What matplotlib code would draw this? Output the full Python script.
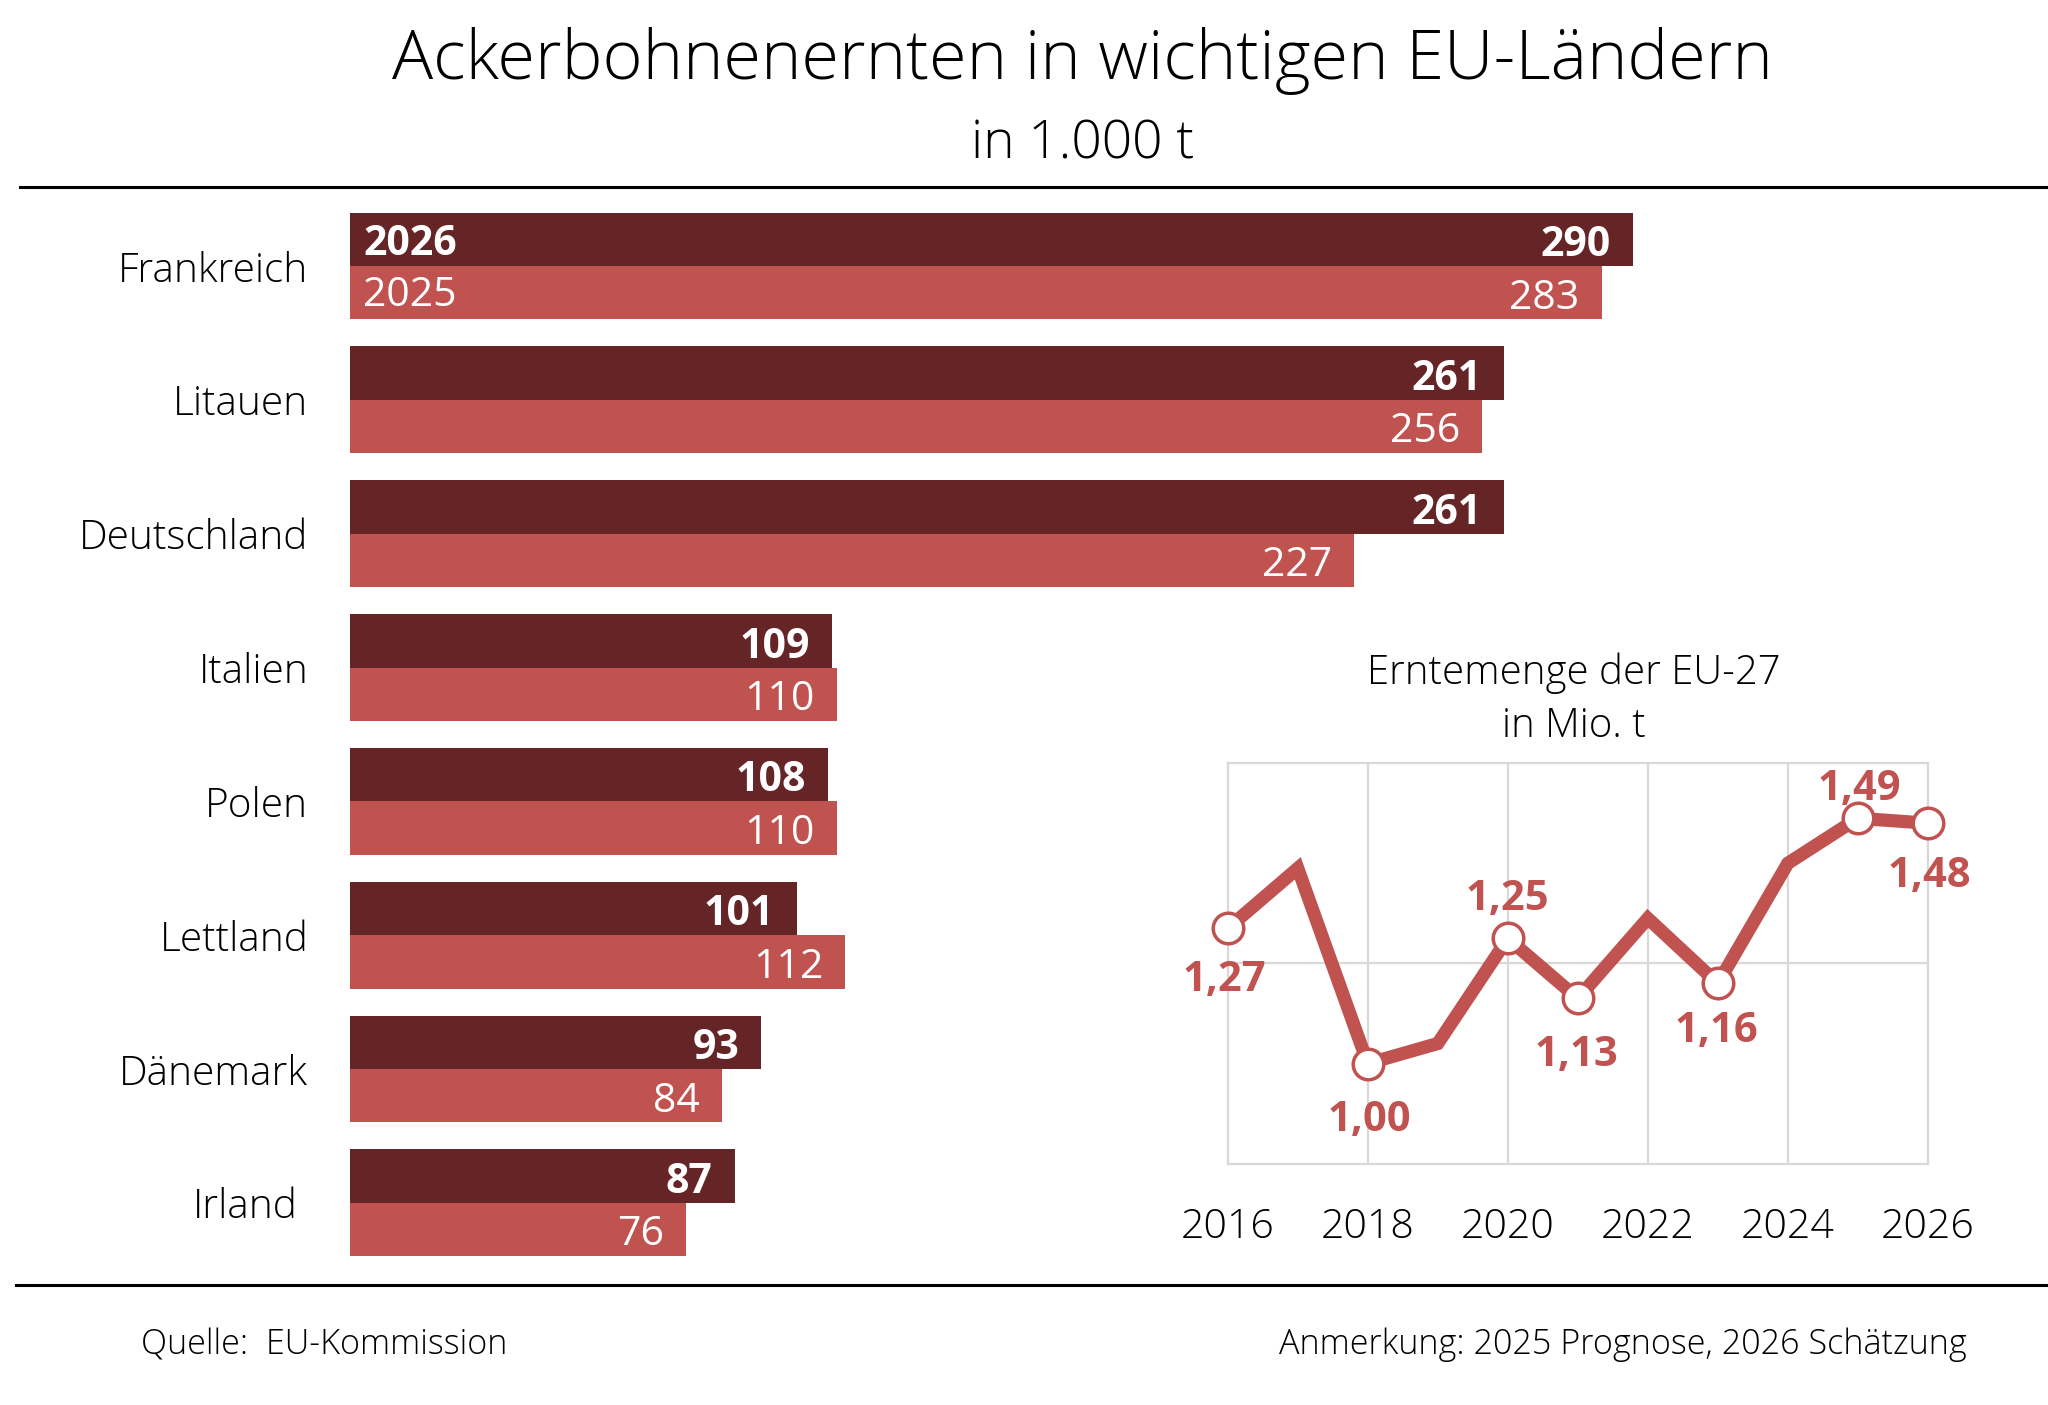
import numpy as np
import matplotlib
matplotlib.use("Agg")
import matplotlib.pyplot as plt
import matplotlib.transforms as mtransforms
from matplotlib.lines import Line2D

plt.rcParams['font.family'] = ['Open Sans', 'DejaVu Sans']

# Data
countries = ["Frankreich", "Litauen", "Deutschland", "Italien", "Polen",
             "Lettland", "Dänemark", "Irland"]
harvest_2026 = [290, 261, 261, 109, 108, 101, 93, 87]
harvest_2025 = [283, 256, 227, 110, 110, 112, 84, 76]

years = [2016, 2017, 2018, 2019, 2020, 2021, 2022, 2023, 2024, 2025, 2026]
eu_total = [1.27, 1.39, 1.00, 1.04, 1.25, 1.13, 1.29, 1.16, 1.40, 1.49, 1.48]
labelled_years = [2016, 2018, 2020, 2021, 2023, 2025, 2026]
year_ticks = [2016, 2018, 2020, 2022, 2024, 2026]

dark_red = "#652527"
light_red = "#C05250"
grid_grey = "#D9D9D9"

W, H = 1568.0, 1077.0   # layout measured on the preview scale

fig = plt.figure(figsize=(20.48, 14.05), dpi=100)

# Titles
fig.text(829 / W, 1 - 47 / H, "Ackerbohnenernten in wichtigen EU-Ländern",
         ha="center", va="center", fontsize=49.3, fontweight="light")
fig.text(829 / W, 1 - 111 / H, "in 1.000 t", ha="center", va="center",
         fontsize=38.3, fontweight="light")

# Rules
fig.add_artist(Line2D([15 / W, 1.0], [1 - 143 / H] * 2, color="black", lw=2.2))
fig.add_artist(Line2D([12 / W, 1.0], [1 - 985 / H] * 2, color="black", lw=2.2))

# Footer
fig.text(108 / W, 1 - 1031 / H, "Quelle:  EU-Kommission", ha="left", va="center",
         fontsize=24.6, fontweight="light")
fig.text(1506 / W, 1 - 1031 / H, "Anmerkung: 2025 Prognose, 2026 Schätzung",
         ha="right", va="center", fontsize=24.6, fontweight="light")

# Bar chart
bar_h = 41 / 102.7
ax = fig.add_axes([268 / W, 1 - 963 / H, 982 / W, 800 / H])
pos = np.arange(len(countries))
ax.barh(pos - bar_h / 2, harvest_2026, height=bar_h, color=dark_red)
ax.barh(pos + bar_h / 2, harvest_2025, height=bar_h, color=light_red)
ax.set_xlim(0, 290)
ax.set_ylim(len(countries) - 1 + bar_h, -bar_h)
ax.set_yticks(pos)
ax.set_yticklabels(countries, fontsize=29.2, fontweight="light")
ax.tick_params(axis="y", length=0, pad=30)
ax.set_xticks([])
for s in ax.spines.values():
    s.set_visible(False)

# Irland sits a little further left in the original
irl = ax.get_yticklabels()[-1]
irl.set_transform(irl.get_transform() +
                  mtransforms.ScaledTranslation(-0.105, 0, fig.dpi_scale_trans))

for i in range(len(countries)):
    ax.annotate(str(harvest_2026[i]), (harvest_2026[i], i - bar_h / 2),
                xytext=(-16, -4.5), textcoords="offset points", ha="right",
                va="center", color="white", fontsize=29.5, fontweight="bold")
    ax.annotate(str(harvest_2025[i]), (harvest_2025[i], i + bar_h / 2),
                xytext=(-16, -4), textcoords="offset points", ha="right",
                va="center", color="white", fontsize=29.5)

ax.annotate("2026", (0, -bar_h / 2), xytext=(10, -4), textcoords="offset points",
            ha="left", va="center", color="white", fontsize=29.5, fontweight="bold")
ax.annotate("2025", (0, bar_h / 2), xytext=(9, -2), textcoords="offset points",
            ha="left", va="center", color="white", fontsize=29.5)

# Inset line chart
fig.text(1205 / W, 1 - 516 / H, "Erntemenge der EU-27", ha="center", va="center",
         fontsize=28.9, fontweight="light")
fig.text(1205 / W, 1 - 557 / H, "in Mio. t", ha="center", va="center",
         fontsize=28.9, fontweight="light")

lx = fig.add_axes([940 / W, 1 - 892 / H, 536 / W, 307 / H])
lx.set_xlim(2016, 2026)
lx.set_ylim(0.8, 1.6)
lx.set_xticks(year_ticks)
lx.set_xticklabels([str(y) for y in year_ticks], fontsize=29.6, fontweight="light")
lx.set_yticks([1.2])
lx.set_yticklabels([])
lx.tick_params(length=0, pad=31)
lx.grid(True, color=grid_grey, lw=1.6)
for s in lx.spines.values():
    s.set_color(grid_grey)
    s.set_linewidth(1.6)

lx.plot(years, eu_total, color=light_red, lw=9.5, solid_joinstyle="miter",
        clip_on=False, zorder=3)
mk_x = [y for y in years if y in labelled_years]
mk_y = [v for y, v in zip(years, eu_total) if y in labelled_years]
lx.plot(mk_x, mk_y, ls="none", marker="o", ms=22, mfc="white", mec=light_red,
        mew=2.5, clip_on=False, zorder=4)

offsets = {2016: (-2.5, -37.5), 2018: (1, -41), 2020: (0, 28), 2021: (-1, -41),
           2023: (-1, -34.5), 2025: (1, 21), 2026: (1, -38.5)}
for y, v in zip(years, eu_total):
    if y in offsets:
        lx.annotate(f"{v:.2f}".replace(".", ","), (y, v), xytext=offsets[y],
                    textcoords="offset points", ha="center", va="center",
                    color=light_red, fontsize=30, fontweight="bold",
                    annotation_clip=False, zorder=5)

fig.savefig("out.png", dpi=100, facecolor="white")
